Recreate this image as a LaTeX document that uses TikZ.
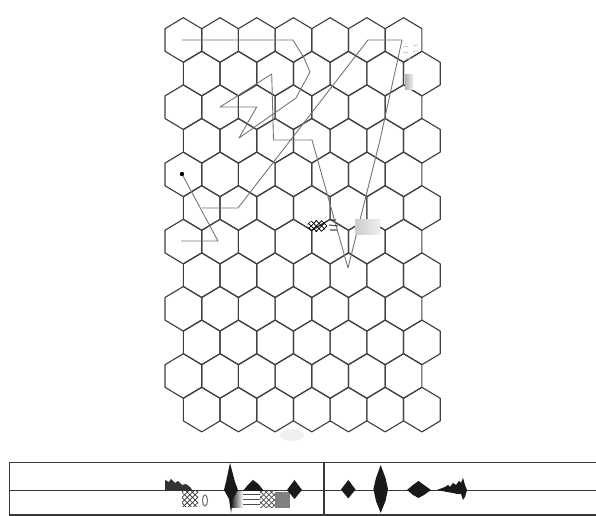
\documentclass[tikz,border=0pt]{standalone}
\usetikzlibrary{patterns}
\begin{document}
\begin{tikzpicture}[
  x=0.02cm, y=-0.02cm,
  hexline/.style={draw=black!75, line width=0.65pt, line join=round},
  walk/.style={draw=black!55, line width=0.5pt, line join=round},
  frame/.style={draw=black!78, line width=0.6pt},
  wave/.style={fill=black!90, draw=none},
  smear/.style={fill=black!13, draw=none}
]
\useasboundingbox (0,0) rectangle (596,516);
\foreach \r in {0,...,11}{
  \foreach \c in {0,...,6}{
    \pgfmathsetmacro{\cx}{183.35+36.7*\c+18.35*mod(\r,2)}
    \pgfmathsetmacro{\cy}{40+33.6*\r}
    \draw[hexline] (\cx,\cy-22.3) -- ++(18.35,11) -- ++(0,22.6) -- ++(-18.35,11)
      -- ++(-18.35,-11) -- ++(0,-22.6) -- cycle;
  }
}
\draw[walk] (181.7,40) -- (293,40) -- (304,58) -- (310,72) -- (296,98) -- (239,138)
  -- (256.7,107) -- (220,107) -- (271.7,74) -- (273.5,140) -- (312,140) -- (348,268)
  -- (380,140) -- (402,40) -- (368,40) -- (238,208) -- (202,208);
\draw[walk] (182,174) -- (218,241) -- (181,241);
\fill[black] (182,174) circle[radius=2.2];
\fill[pattern=crosshatch, pattern color=black] (317,226) ellipse[x radius=10, y radius=6];
\draw[black!70, line width=0.6pt] (329,220) -- (336,220) (329,225) -- (338,226) (330,230) -- (337,230);
\shade[left color=black!20, right color=black!6] (355,220) rectangle (380,235);
\shade[left color=black!30, right color=black!8] (405,75) rectangle (413,90);
\draw[black!25, line width=0.4pt, dashed] (403,47) -- (418,45) (403,53) -- (418,51) (405,59) -- (416,58);
\fill[black!6] (292,435) ellipse[x radius=12, y radius=6];
\draw[frame] (596,462.5) -- (9.5,462.5) -- (9.5,515) -- (596,515);
\draw[frame] (9.5,490.5) -- (596,490.5);
\draw[frame] (324,462.5) -- (324,515);
\fill[black!80] (165,491) -- (165,480) -- (169,482) -- (171,479) -- (175,483) -- (178,481)
  -- (182,485) -- (186,484) -- (190,487) -- (193,491) -- cycle;
\fill[pattern=crosshatch, pattern color=black!80] (182,492) rectangle (198,507);
\draw[black!55, line width=0.6pt] (205,500.5) ellipse[x radius=2.5, y radius=5.5];
\shade[left color=black!80, right color=white] (232,492) rectangle (243,508);
\fill[pattern=horizontal lines, pattern color=black!70] (243,492) rectangle (260,508);
\fill[pattern=crosshatch, pattern color=black!70] (260,492) rectangle (275,508);
\fill[black!50] (275,492) rectangle (290,508);
\fill[wave] (230,463) -- (235,482) -- (238,490) -- (233,499) -- (231,513) -- (229,499)
  -- (224,490) -- (226,482) -- cycle;
\fill[wave] (243,491) -- (247,486) -- (250,483) -- (253,480) -- (257,483) -- (260,486) -- (264,491) -- cycle;
\fill[wave] (294.5,480) -- (302,490) -- (294.5,499) -- (287,490) -- cycle;
\fill[wave] (348.3,480) -- (355.5,489.5) -- (348.3,498.5) -- (341,489.5) -- cycle;
\fill[wave] (380.7,465) -- (385.5,478) -- (388,489) -- (385.5,501) -- (380.7,513)
  -- (376,501) -- (373.4,489) -- (376,478) -- cycle;
\fill[wave] (407,490) -- (413,485) -- (418.5,481) -- (424,485) -- (431,490) -- (424,495)
  -- (418.5,498) -- (413,495) -- cycle;
\fill[wave] (437,490) -- (445,487) -- (448,485) -- (450,487) -- (453,483) -- (456,485)
  -- (459,481) -- (461,483) -- (463,478) -- (465,485) -- (467,490) -- (465,497)
  -- (463,500) -- (461,494) -- (457,494) -- (453,493) -- (447,492) -- cycle;
\end{tikzpicture}
\end{document}
